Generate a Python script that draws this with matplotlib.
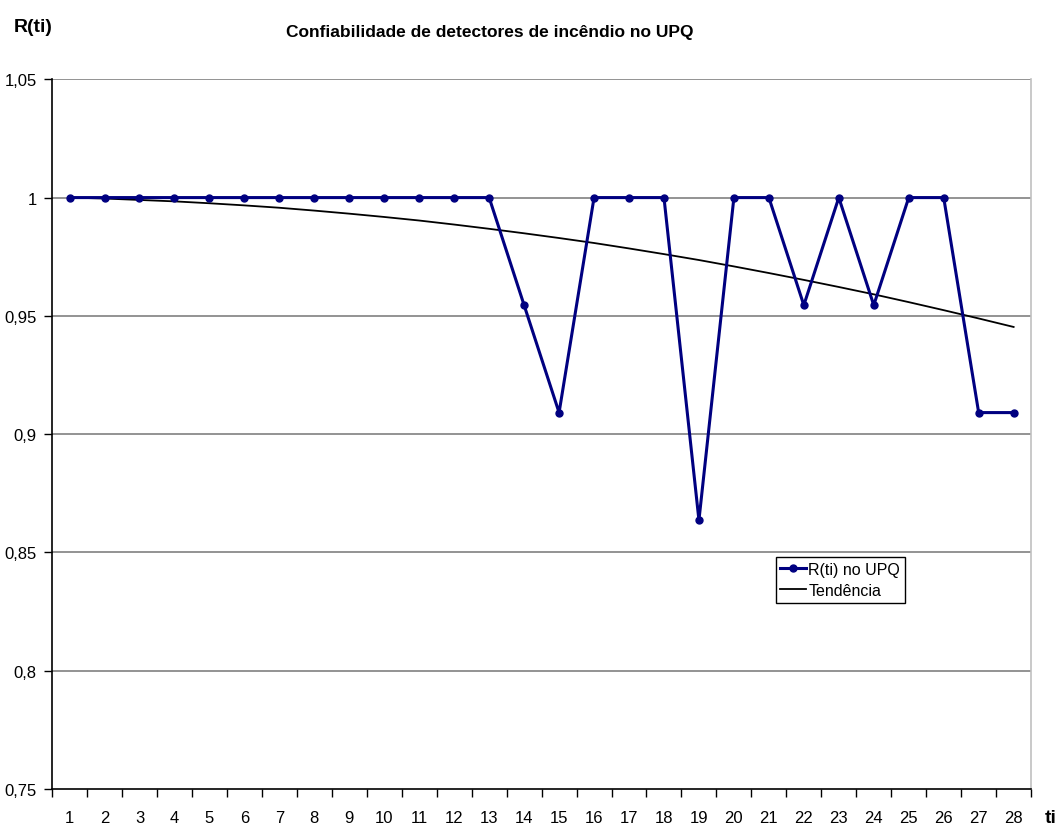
import numpy as np
import matplotlib.pyplot as plt
from matplotlib.ticker import FixedLocator, NullFormatter

plt.rcParams['font.family'] = ['Liberation Sans', 'DejaVu Sans']

ti = list(range(1, 29))
r_ti = [1, 1, 1, 1, 1, 1, 1, 1, 1, 1, 1, 1, 1,
        0.9545, 0.9091, 1, 1, 1, 0.8636, 1, 1, 0.9545,
        1, 0.9545, 1, 1, 0.9091, 0.9091]
# linha de tendência
tendencia = [1.0000, 0.9996, 0.9990, 0.9984, 0.9976, 0.9967, 0.9957, 0.9945,
             0.9932, 0.9918, 0.9903, 0.9886, 0.9868, 0.9849, 0.9829, 0.9808,
             0.9785, 0.9761, 0.9736, 0.9709, 0.9681, 0.9652, 0.9622, 0.9591,
             0.9558, 0.9524, 0.9489, 0.9453]
yticks = [0.75, 0.8, 0.85, 0.9, 0.95, 1.0, 1.05]
ytick_labels = ['0,75', '0,8', '0,85', '0,9', '0,95', '1', '1,05']

fig = plt.figure(figsize=(10.63, 8.28), dpi=100)
ax = fig.add_axes([0.049, 0.046, 0.921, 0.857])

for y in yticks[1:]:
    ax.axhline(y, color='#808080', lw=1.2, zorder=1)

ax.plot(ti, r_ti, color='#000080', lw=2.2, marker='o', ms=5, label='R(ti) no UPQ', zorder=3)
ax.plot(ti, tendencia, color='black', lw=1.3, label='Tendência', zorder=2)

ax.set_xlim(0.5, 28.5)
ax.set_ylim(0.75, 1.05)
ax.set_yticks(yticks)
ax.set_yticklabels(ytick_labels, fontsize=12)
ax.set_xticks(ti)
ax.set_xticklabels([str(t) for t in ti], fontsize=12)
ax.xaxis.set_minor_locator(FixedLocator(np.arange(0.5, 29, 1)))
ax.xaxis.set_minor_formatter(NullFormatter())
ax.tick_params(axis='x', which='major', length=0, pad=15)
ax.tick_params(axis='x', which='minor', length=6, width=1, direction='out')
ax.tick_params(axis='y', length=6, width=1, direction='out', pad=5)

for s in ['left', 'bottom']:
    ax.spines[s].set_color('black')
    ax.spines[s].set_linewidth(1.2)
ax.spines['top'].set_visible(False)
ax.spines['right'].set_color('#c0c0c0')
ax.spines['right'].set_linewidth(1.2)

fig.text(0.031, 0.967, 'R(ti)', fontsize=14, fontweight='bold', ha='center', va='center')
fig.text(0.4605, 0.961, 'Confiabilidade de detectores de incêndio no UPQ',
         fontsize=12.5, fontweight='bold', ha='center', va='center')
fig.text(0.988, 0.012, 'ti', fontsize=14, fontweight='bold', ha='center', va='center')

leg = ax.legend(loc='upper left', bbox_to_anchor=(0.739, 0.327), fontsize=11.5,
                frameon=True, fancybox=False, edgecolor='black', framealpha=1,
                handlelength=1.6, handletextpad=0.15, borderpad=0.3, labelspacing=0.4,
                borderaxespad=0)
leg.get_frame().set_linewidth(1.0)

fig.savefig('out.png', dpi=100)
